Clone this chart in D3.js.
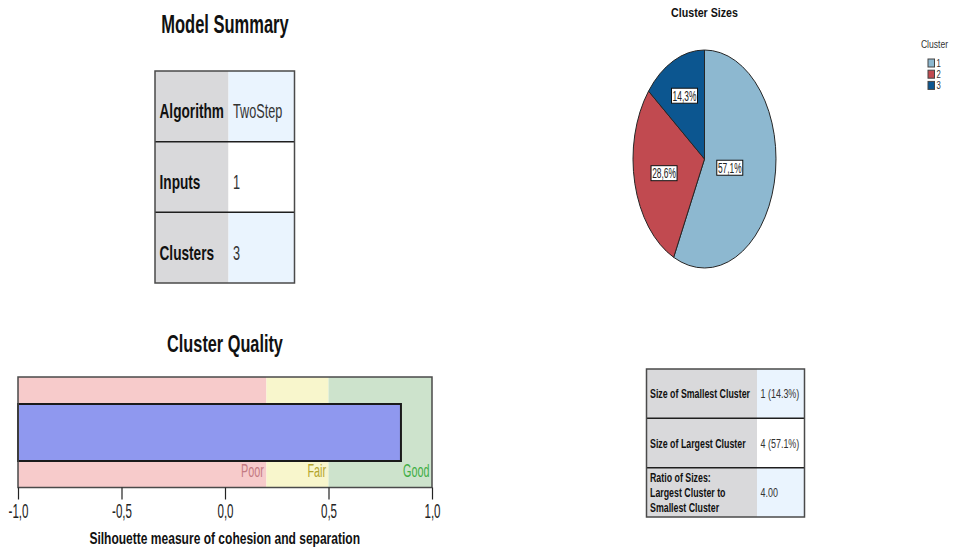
<!DOCTYPE html>
<html>
<head>
<meta charset="utf-8">
<script src="https://cdn.jsdelivr.net/npm/d3@7"></script>
<style>
  html, body { margin: 0; padding: 0; background: #fff; }
  svg { display: block; }
  text { font-family: "Liberation Sans", Arial, sans-serif; }
</style>
</head>
<body>
<svg id="chart" width="955" height="550"></svg>
<script>
// Model summary table
const summaryLabels = ["Algorithm", "Inputs", "Clusters"];
const summaryValues = ["TwoStep", "1", "3"];

// Cluster sizes pie
const clusterIds = ["1", "2", "3"];
const clusterShares = [57.1, 28.6, 14.3];
const clusterShareLabels = ["57,1%", "28,6%", "14,3%"];

// Silhouette quality bar
const silhouetteValue = 0.85;
const zoneNames = ["Poor", "Fair", "Good"];
const zoneStarts = [-1.0, 0.2, 0.5];
const zoneEnds = [0.2, 0.5, 1.0];
const axisTicks = [-1.0, -0.5, 0.0, 0.5, 1.0];
const axisTickLabels = ["-1,0", "-0,5", "0,0", "0,5", "1,0"];

// Cluster size comparison table
const sizeLabels = [["Size of Smallest Cluster"], ["Size of Largest Cluster"], ["Ratio of Sizes:", "Largest Cluster to", "Smallest Cluster"]];
const sizeValues = ["1 (14.3%)", "4 (57.1%)", "4.00"];

const svg = d3.select("#chart");

// Condensed text: drawn at (x, y) and squeezed horizontally about its anchor.
function addText(parent, o) {
  const t = parent.append("text")
    .attr("transform", `translate(${o.x},${o.y}) scale(${o.squeeze || 1},1)`)
    .attr("font-size", o.size)
    .attr("font-weight", o.weight || "normal")
    .attr("text-anchor", o.anchor || "start")
    .attr("fill", o.fill || "#111");
  const lines = Array.isArray(o.text) ? o.text : [o.text];
  lines.forEach((ln, k) => {
    t.append("tspan").attr("x", 0).attr("y", (k - (lines.length - 1) / 2) * (o.lh || 0)).text(ln);
  });
  return t;
}

// ---------- Model Summary ----------
addText(svg, { x: 225, y: 33, text: "Model Summary", size: 25, weight: "bold", squeeze: 0.66, anchor: "middle" });

function drawTable(g, labels, values, o) {
  const rowY = d3.scaleBand().domain(d3.range(labels.length)).range([o.y0, o.y1]);
  labels.forEach((lab, i) => {
    g.append("rect").attr("x", o.x0).attr("y", rowY(i))
      .attr("width", o.xm - o.x0).attr("height", rowY.bandwidth()).attr("fill", "#d9d9db");
    g.append("rect").attr("x", o.xm).attr("y", rowY(i))
      .attr("width", o.x1 - o.xm).attr("height", rowY.bandwidth())
      .attr("fill", i % 2 === 0 ? "#eaf4fe" : "#ffffff");
    const base = rowY(i) + rowY.bandwidth() / 2 + o.shift;
    addText(g, { x: o.x0 + o.pad, y: base, text: lab, size: o.fs, weight: "bold",
      squeeze: o.labSqueeze, lh: o.lh, fill: "#111" });
    addText(g, { x: o.xm + o.pad, y: base, text: values[i], size: o.fs,
      squeeze: o.valSqueeze, fill: "#333" });
  });
  d3.range(1, labels.length).forEach(i => {
    g.append("line").attr("x1", o.x0).attr("x2", o.x1).attr("y1", rowY(i)).attr("y2", rowY(i))
      .attr("stroke", "#1e1e1e").attr("stroke-width", 1.5);
  });
  g.append("rect").attr("x", o.x0).attr("y", o.y0).attr("width", o.x1 - o.x0)
    .attr("height", o.y1 - o.y0).attr("fill", "none").attr("stroke", "#4a4a4a").attr("stroke-width", 1.5);
}

drawTable(svg.append("g"), summaryLabels, summaryValues,
  { x0: 155, x1: 294.5, xm: 228.5, y0: 71, y1: 283, pad: 4.5, fs: 19.5, lh: 20, shift: 12,
    labSqueeze: 0.70, valSqueeze: 0.65 });

// ---------- Cluster Sizes pie ----------
addText(svg, { x: 704.5, y: 16.7, text: "Cluster Sizes", size: 13, weight: "bold", squeeze: 0.82, anchor: "middle" });

const pieColor = d3.scaleOrdinal().domain(clusterIds).range(["#8db8d0", "#c14a50", "#0c5690"]);
const cx = 704.5, cy = 159, rx = 71.5, ry = 109;
const pie = d3.pie().sort(null).value(d => d.v);
const arcs = pie(clusterIds.map((id, i) => ({ id, v: clusterShares[i], label: clusterShareLabels[i] })));
const arc = d3.arc().innerRadius(0).outerRadius(ry);

const pieG = svg.append("g").attr("transform", `translate(${cx},${cy}) scale(${rx / ry},1)`);
pieG.selectAll("path").data(arcs).join("path")
  .attr("d", arc).attr("fill", d => pieColor(d.data.id))
  .attr("stroke", "#262626").attr("stroke-width", 1).attr("vector-effect", "non-scaling-stroke");

// Labels sit at each sector's area centroid.
function sectorCentroid(d) {
  const theta = d.endAngle - d.startAngle;
  const r = ry * 4 * Math.sin(theta / 2) / (3 * theta);
  const mid = (d.startAngle + d.endAngle) / 2;
  return [cx + Math.sin(mid) * r * rx / ry, cy - Math.cos(mid) * r];
}
arcs.forEach(d => {
  const [lx, ly] = sectorCentroid(d);
  const g = svg.append("g").attr("transform", `translate(${lx},${ly})`);
  g.append("rect").attr("x", -13).attr("y", -7.5).attr("width", 26).attr("height", 15)
    .attr("fill", "#fff").attr("stroke", "#111").attr("stroke-width", 1);
  addText(g, { x: 0, y: 5, text: d.data.label, size: 14, squeeze: 0.6, anchor: "middle", fill: "#222" });
});

// legend
addText(svg, { x: 934.5, y: 48.3, text: "Cluster", size: 11.6, squeeze: 0.74, anchor: "middle", fill: "#333" });
clusterIds.forEach((id, i) => {
  const y = 59 + i * 11.2;
  svg.append("rect").attr("x", 928).attr("y", y).attr("width", 6.5).attr("height", 8)
    .attr("fill", pieColor(id)).attr("stroke", "#444").attr("stroke-width", 1);
  addText(svg, { x: 936.5, y: y + 8, text: id, size: 11, squeeze: 0.7, fill: "#333" });
});

// ---------- Cluster Quality ----------
addText(svg, { x: 225, y: 351.7, text: "Cluster Quality", size: 24.7, weight: "bold", squeeze: 0.66, anchor: "middle" });

const x = d3.scaleLinear().domain([-1, 1]).range([18, 432]);
const boxTop = 377, boxBottom = 487.5;
const zoneFill = ["#f7cbcb", "#f8f6cc", "#cde3cc"];
const zoneText = ["#c47a82", "#b3a52c", "#3fae45"];
const qg = svg.append("g");
zoneNames.forEach((z, i) => {
  qg.append("rect").attr("x", x(zoneStarts[i])).attr("y", boxTop)
    .attr("width", x(zoneEnds[i]) - x(zoneStarts[i])).attr("height", boxBottom - boxTop)
    .attr("fill", zoneFill[i]);
  addText(qg, { x: x(zoneEnds[i]) - 2.5, y: 476.7, text: z, size: 17.7, squeeze: 0.61,
    anchor: "end", fill: zoneText[i] });
});
qg.append("rect").attr("x", x(-1)).attr("y", 404).attr("width", x(silhouetteValue) - x(-1))
  .attr("height", 57).attr("fill", "#8f98ef").attr("stroke", "#1a1a1a").attr("stroke-width", 2);
qg.append("rect").attr("x", x(-1)).attr("y", boxTop).attr("width", x(1) - x(-1))
  .attr("height", boxBottom - boxTop).attr("fill", "none").attr("stroke", "#4a4a4a").attr("stroke-width", 1.5);

const axis = d3.axisBottom(x).tickValues(axisTicks).tickSize(12).tickPadding(4)
  .tickFormat((d, i) => axisTickLabels[i]);
const ag = svg.append("g").attr("transform", `translate(0,${boxBottom})`).call(axis);
ag.select(".domain").remove();
ag.selectAll(".tick line").attr("stroke", "#222").attr("stroke-width", 1.2);
ag.selectAll(".tick text").attr("font-size", 20).attr("fill", "#222")
  .attr("font-family", "'Liberation Sans', Arial, sans-serif")
  .attr("transform", "scale(0.58,1)");

addText(svg, { x: 224.7, y: 544, text: "Silhouette measure of cohesion and separation",
  size: 17.2, weight: "bold", squeeze: 0.70, anchor: "middle" });

// ---------- Cluster size comparison ----------
drawTable(svg.append("g"), sizeLabels, sizeValues,
  { x0: 646.5, x1: 804.5, xm: 757, y0: 369, y1: 517, pad: 3.5, fs: 12.8, lh: 15, shift: 4.5,
    labSqueeze: 0.69, valSqueeze: 0.70 });
</script>
</body>
</html>
